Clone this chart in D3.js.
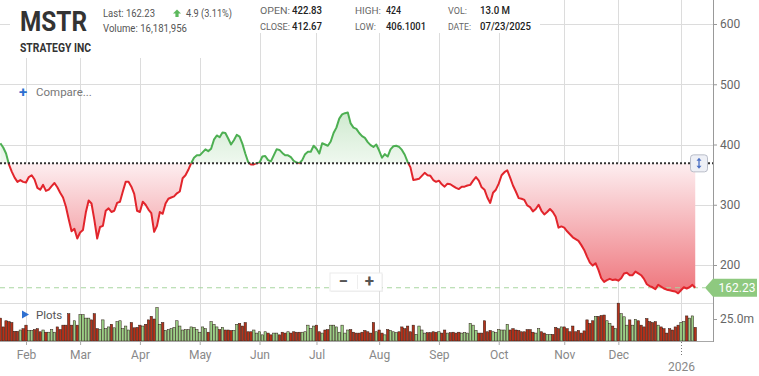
<!DOCTYPE html>
<html>
<head>
<meta charset="utf-8">
<script src="https://cdn.jsdelivr.net/npm/d3@7"></script>
<style>
  body { margin: 0; background: #fff; }
  text { font-family: Roboto, "Liberation Sans", sans-serif; }
</style>
</head>
<body>
<div id="chart"></div>
<script>
// Month tick labels and the trading-day index where each month starts
var monthLabels = ["Feb", "Mar", "Apr", "May", "Jun", "Jul", "Aug", "Sep", "Oct", "Nov", "Dec", "2026"];
var monthStartIndex = [9, 28, 49, 70, 91, 111, 133, 154, 175, 198, 217, 239];

// Daily closes (one per trading day, Jan 21 2025 .. Jan 9 2026)
var closePrices = [
  402, 395, 385, 367, 355, 345, 338, 341, 338, 337,
  346, 349, 342, 328, 325, 333, 323, 325, 331, 336,
  329, 320, 312, 297, 276, 256, 260, 244, 254, 258,
  287, 307, 302, 275, 244, 263, 265, 290, 294, 288,
  290, 303, 305, 322, 338, 338, 330, 318, 290, 288,
  305, 300, 292, 286, 255, 265, 288, 285, 302, 310,
  312, 314, 319, 322, 344, 349, 358, 369, 378, 382,
  382, 387, 392, 389, 393, 408, 415, 412, 420, 419,
  410, 400, 407, 416, 413, 401, 385, 371, 367, 367,
  369, 370, 380, 381, 374, 372, 382, 392, 391, 386,
  382, 382, 379, 373, 370, 369, 374, 384, 388, 388,
  398, 393, 385, 402, 400, 398, 405, 419, 428, 443,
  450, 452, 453, 435, 428, 426, 419, 414, 411, 404,
  399, 396, 400, 390, 378, 384, 380, 392, 397, 398,
  396, 391, 383, 371, 362, 341, 342, 343, 348, 353,
  349, 348, 341, 338, 340, 334, 330, 335, 334, 331,
  328, 326, 330, 330, 332, 333, 340, 346, 340, 329,
  325, 312, 303, 320, 325, 335, 349, 354, 357, 345,
  332, 322, 311, 310, 308, 299, 296, 289, 293, 300,
  290, 284, 288, 293, 288, 280, 262, 264, 262, 256,
  251, 246, 243, 240, 233, 225, 214, 204, 199, 203,
  192, 178, 172, 175, 177, 175, 176, 174, 178, 186,
  187, 183, 183, 189, 186, 183, 177, 168, 165, 163,
  160, 167, 164, 161, 159, 158, 157, 156, 153, 158,
  163, 161, 163, 167, 162.23
];

// Daily volume in millions
var volumes = [
  26, 16, 23, 22, 21, 11, 11, 12.5, 14, 18,
  12, 12, 13, 14, 10.5, 12.5, 10, 10, 13, 10,
  16, 13, 18, 18, 31, 18, 23, 18, 30, 30,
  26, 26, 24, 31, 14, 13, 24, 14, 16, 19,
  15, 22, 23, 14, 17, 12.5, 21, 15, 15.5, 18,
  17, 19, 24, 28, 25, 38, 19, 21, 12, 13,
  14, 15.5, 23, 17, 12.5, 13, 13, 16, 15.5, 13,
  10, 16, 14, 10, 22, 19, 16, 13, 15.5, 12.5,
  12.5, 12, 12, 19, 20, 17, 21, 10.5, 10.5, 12.5,
  9, 10.5, 7, 10.5, 9, 7, 9, 9, 7, 10,
  9, 10.5, 9, 10.5, 10, 10, 10, 10.5, 18, 14,
  17, 18, 10.5, 9, 12.5, 13, 18, 18, 16, 10,
  18, 9, 12.5, 13, 10, 9, 9, 10, 12, 10.5,
  9, 21, 10.5, 12.5, 9, 7, 13, 12, 10.5, 9.5,
  10.5, 16, 14, 17, 10.5, 18, 7.5, 17, 12.5, 9,
  9.5, 9.5, 10.5, 10, 10.5, 9, 12.5, 9, 9.5, 10,
  9, 10, 9, 9.5, 9, 20, 18, 12, 9, 9,
  23, 10.5, 12, 10.5, 9.5, 13, 12.5, 12.5, 19, 12.5,
  14, 12.5, 12, 10.5, 10.5, 13, 13, 10, 9, 14,
  10.5, 9, 7.5, 7.5, 7.5, 15.5, 14, 16, 16, 14,
  10.5, 17, 10.5, 12, 9, 11.5, 24, 20, 23, 28,
  28, 29, 29.5, 23, 20, 17, 14, 43, 31, 27.5,
  18, 24, 18, 24.5, 23, 18, 16, 25.5, 22, 21,
  22, 18, 16, 14, 9, 14, 12.5, 16, 18, 21,
  22, 28.5, 26, 28.5, 15.5
];

var priceTicks = [200, 300, 400, 500, 600];
var volumeTicks = [25];
var baselinePrice = 368.7;
var lastPrice = 162.23;

var width = 759, height = 376;
var plotRight = 713, volBottom = 341, volTop = 303;

var svg = d3.select("#chart")
  .append("svg")
    .attr("width", width)
    .attr("height", height);

// Scales: x runs over trading-day index
var x = d3.scaleLinear()
    .domain([monthStartIndex[0], monthStartIndex[monthStartIndex.length - 1]])
    .range([26, 681]);
var y = d3.scaleLinear().domain([200, 600]).range([265, 24]);
var yv = d3.scaleLinear().domain([0, 25]).range([volBottom, 319]);
var yBase = y(baselinePrice);

// Gradients for the two fills
var defs = svg.append("defs");
var redGrad = defs.append("linearGradient")
    .attr("id", "redFill").attr("gradientUnits", "userSpaceOnUse")
    .attr("x1", 0).attr("x2", 0).attr("y1", yBase).attr("y2", y(150));
redGrad.append("stop").attr("offset", 0).attr("stop-color", "#fdeef0");
redGrad.append("stop").attr("offset", 1).attr("stop-color", "#ee737a");
var greenGrad = defs.append("linearGradient")
    .attr("id", "greenFill").attr("gradientUnits", "userSpaceOnUse")
    .attr("x1", 0).attr("x2", 0).attr("y1", y(460)).attr("y2", yBase);
greenGrad.append("stop").attr("offset", 0).attr("stop-color", "#cde9cd");
greenGrad.append("stop").attr("offset", 1).attr("stop-color", "#eff8ef");

defs.append("clipPath").attr("id", "clipAbove")
  .append("rect").attr("x", 0).attr("y", 0).attr("width", plotRight).attr("height", yBase);
defs.append("clipPath").attr("id", "clipBelow")
  .append("rect").attr("x", 0).attr("y", yBase).attr("width", plotRight).attr("height", volTop - yBase);

// Grid lines
var grid = svg.append("g").attr("stroke", "#dcdcdc").attr("stroke-width", 1);
grid.selectAll(".hgrid")
    .data(priceTicks)
    .enter()
    .append("line")
      .attr("x1", 0).attr("x2", plotRight)
      .attr("y1", function(d) { return Math.round(y(d)) + 0.5; })
      .attr("y2", function(d) { return Math.round(y(d)) + 0.5; });
grid.append("line")
    .attr("x1", 0).attr("x2", plotRight)
    .attr("y1", volTop + 0.5).attr("y2", volTop + 0.5);
grid.selectAll(".vgrid")
    .data(monthStartIndex)
    .enter()
    .append("line")
      .attr("x1", function(d) { return Math.round(x(d)) + 0.5; })
      .attr("x2", function(d) { return Math.round(x(d)) + 0.5; })
      .attr("y1", 0).attr("y2", volBottom);

// White panels behind the header
svg.append("rect").attr("x", 10).attr("y", 0).attr("width", 530).attr("height", 33).attr("fill", "#fff");
svg.append("rect").attr("x", 10).attr("y", 0).attr("width", 240).attr("height", 58).attr("fill", "#fff");

// Price areas and line, split at the baseline
var area = d3.area()
    .x(function(d, i) { return x(i); })
    .y0(yBase)
    .y1(function(d) { return y(d); });
var line = d3.line()
    .x(function(d, i) { return x(i); })
    .y(function(d) { return y(d); });

svg.append("path").datum(closePrices)
    .attr("clip-path", "url(#clipBelow)")
    .attr("d", area).attr("fill", "url(#redFill)");
svg.append("path").datum(closePrices)
    .attr("clip-path", "url(#clipAbove)")
    .attr("d", area).attr("fill", "url(#greenFill)");

// Last price dashed line
svg.append("line")
    .attr("x1", 0).attr("x2", 705)
    .attr("y1", y(lastPrice)).attr("y2", y(lastPrice))
    .attr("stroke", "#a9d6a0").attr("stroke-dasharray", "5,4");

svg.append("path").datum(closePrices)
    .attr("clip-path", "url(#clipBelow)")
    .attr("d", line).attr("fill", "none")
    .attr("stroke", "#e2252c").attr("stroke-width", 2).attr("stroke-linejoin", "round");
svg.append("path").datum(closePrices)
    .attr("clip-path", "url(#clipAbove)")
    .attr("d", line).attr("fill", "none")
    .attr("stroke", "#4daf52").attr("stroke-width", 2).attr("stroke-linejoin", "round");

// Dotted baseline
svg.append("line")
    .attr("x1", 0).attr("x2", plotRight)
    .attr("y1", yBase).attr("y2", yBase)
    .attr("stroke", "#333").attr("stroke-width", 2).attr("stroke-dasharray", "2,2");

// Volume bars
svg.selectAll(".vol")
    .data(volumes)
    .enter()
    .append("rect")
      .attr("x", function(d, i) { return x(i) - 1.2; })
      .attr("y", function(d) { return yv(d); })
      .attr("width", 2.4)
      .attr("height", function(d) { return volBottom - yv(d); })
      .attr("fill", function(d, i) {
        return (i > 0 && closePrices[i] >= closePrices[i - 1]) ? "#9ccf86" : "#b5321b";
      })
      .attr("stroke", "#2a1a12").attr("stroke-width", 0.5);

// Bottom axis
svg.append("line")
    .attr("x1", 0).attr("x2", plotRight)
    .attr("y1", volBottom + 0.5).attr("y2", volBottom + 0.5)
    .attr("stroke", "#a8a8a8");
var xAxis = svg.append("g")
    .attr("transform", "translate(0," + (volBottom + 1) + ")")
    .call(d3.axisBottom(x)
      .tickValues(monthStartIndex)
      .tickFormat(function(d, i) { return monthLabels[i]; })
      .tickSize(3).tickPadding(5));
xAxis.select(".domain").remove();
xAxis.selectAll("line").attr("stroke", "#aaa");
xAxis.selectAll("text").attr("fill", "#888").attr("font-size", 12);
xAxis.selectAll(".tick").filter(function(d, i) { return i === monthLabels.length - 1; })
  .each(function() {
    var t = d3.select(this);
    t.select("text").attr("y", 20.5);
    t.select("line").attr("y2", 15).attr("stroke-dasharray", "1,2").attr("stroke", "#777");
  });

// Right axis
svg.append("line")
    .attr("x1", plotRight + 0.5).attr("x2", plotRight + 0.5)
    .attr("y1", 0).attr("y2", volBottom + 1)
    .attr("stroke", "#999");
var yAxis = svg.append("g")
    .attr("transform", "translate(" + (plotRight + 1) + ",0)")
    .call(d3.axisRight(y).tickValues(priceTicks).tickSize(3).tickPadding(3));
var vAxis = svg.append("g")
    .attr("transform", "translate(" + (plotRight + 1) + ",0)")
    .call(d3.axisRight(yv).tickValues(volumeTicks)
      .tickFormat(function(d) { return d.toFixed(1) + "m"; })
      .tickSize(3).tickPadding(3));
[yAxis, vAxis].forEach(function(a) {
  a.select(".domain").remove();
  a.selectAll("line").attr("stroke", "#999");
  a.selectAll("text").attr("fill", "#666").attr("font-size", 12);
});

// Last price tag
var tagY = y(lastPrice);
svg.append("path")
    .attr("d", "M705," + tagY + " L713," + (tagY - 9) + " H757 V" + (tagY + 9) + " H713 Z")
    .attr("fill", "#8ec97f");
svg.append("text")
    .attr("x", 737).attr("y", tagY + 4.5)
    .attr("text-anchor", "middle").attr("fill", "#fff").attr("font-size", 12)
    .text(d3.format(".2f")(lastPrice));

// Baseline drag handle (box with a double-headed arrow)
svg.append("rect")
    .attr("x", 690.5).attr("y", yBase - 8.5).attr("width", 17).attr("height", 17).attr("rx", 3)
    .attr("fill", "#eef0f6").attr("stroke", "#b9bdc9");
var hx = 699;
svg.append("line")
    .attr("x1", hx).attr("x2", hx).attr("y1", yBase - 3).attr("y2", yBase + 3)
    .attr("stroke", "#4a6fc4").attr("stroke-width", 1.3);
svg.append("path")
    .attr("d", "M" + (hx - 2.5) + "," + (yBase - 2.5) + " L" + hx + "," + (yBase - 5.5) + " L" + (hx + 2.5) + "," + (yBase - 2.5) + " Z" +
               "M" + (hx - 2.5) + "," + (yBase + 2.5) + " L" + hx + "," + (yBase + 5.5) + " L" + (hx + 2.5) + "," + (yBase + 2.5) + " Z")
    .attr("fill", "#4a6fc4");

// Zoom control
var zoomBox = svg.append("g").attr("transform", "translate(330,273)");
zoomBox.append("rect").attr("x", 1).attr("y", 1).attr("width", 52).attr("height", 18)
    .attr("fill", "#000").attr("opacity", 0.06);
zoomBox.append("rect").attr("width", 52).attr("height", 18).attr("fill", "#fff").attr("stroke", "#ececec");
zoomBox.append("line").attr("x1", 27.5).attr("x2", 27.5).attr("y1", 2).attr("y2", 16).attr("stroke", "#eee");
zoomBox.append("text").attr("x", 13.5).attr("y", 14).attr("text-anchor", "middle")
    .attr("font-size", 17).attr("font-weight", "bold").attr("fill", "#555").text("\u2212");
zoomBox.append("text").attr("x", 39.5).attr("y", 14).attr("text-anchor", "middle")
    .attr("font-size", 17).attr("font-weight", "bold").attr("fill", "#555").text("+");

// Compare and Plots links
svg.append("text").attr("x", 19).attr("y", 97).attr("fill", "#2d6fd0")
    .attr("font-size", 15).attr("font-weight", "bold").text("+");
svg.append("text").attr("x", 36).attr("y", 96).attr("fill", "#777").attr("font-size", 11.5).text("Compare...");
svg.append("path").attr("d", "M22,310.5 L29,314.5 L22,318.5 Z").attr("fill", "#2d6fd0");
svg.append("text").attr("x", 36).attr("y", 318.5).attr("fill", "#555").attr("font-size", 11.5).text("Plots");

// Header
svg.append("text").attr("x", 20).attr("y", 30.5)
    .attr("font-family", "'Liberation Sans Narrow', Roboto, sans-serif")
    .attr("font-weight", "bold").attr("font-size", 27).attr("fill", "#333")
    .attr("textLength", 67).attr("lengthAdjust", "spacingAndGlyphs").text("MSTR");
svg.append("text").attr("x", 20).attr("y", 52)
    .attr("font-family", "'Liberation Sans Narrow', Roboto, sans-serif")
    .attr("font-weight", "bold").attr("font-size", 12).attr("fill", "#333")
    .attr("textLength", 71).attr("lengthAdjust", "spacingAndGlyphs").text("STRATEGY INC");

function headerText(tx, ty, str, w, opts) {
  var t = svg.append("text").attr("x", tx).attr("y", ty)
      .attr("font-size", opts.size).attr("fill", opts.color)
      .attr("textLength", w).attr("lengthAdjust", "spacingAndGlyphs")
      .text(str);
  if (opts.bold) t.attr("font-weight", 500);
  return t;
}
headerText(103, 16.5, "Last: 162.23", 52, {size: 11.5, color: "#555"});
svg.append("path").attr("d", "M177,9.5 L181,13.5 L178.6,13.5 L178.6,17 L175.4,17 L175.4,13.5 L173,13.5 Z").attr("fill", "#5cb85c");
headerText(186, 16.5, "4.9 (3.11%)", 46, {size: 11.5, color: "#555"});
headerText(103, 32, "Volume: 16,181,956", 84, {size: 11.5, color: "#555"});

headerText(260, 14, "OPEN:", 30, {size: 9.5, color: "#666"});
headerText(292, 14, "422.83", 30, {size: 11, color: "#222", bold: true});
headerText(260, 30, "CLOSE:", 30, {size: 9.5, color: "#666"});
headerText(292, 30, "412.67", 30, {size: 11, color: "#222", bold: true});
headerText(355, 14, "HIGH:", 26, {size: 9.5, color: "#666"});
headerText(386, 14, "424", 15, {size: 11, color: "#222", bold: true});
headerText(355, 30, "LOW:", 21, {size: 9.5, color: "#666"});
headerText(386, 30, "406.1001", 40, {size: 11, color: "#222", bold: true});
headerText(448, 14, "VOL:", 19, {size: 9.5, color: "#666"});
headerText(480, 14, "13.0 M", 30, {size: 11, color: "#222", bold: true});
headerText(448, 30, "DATE:", 23, {size: 9.5, color: "#666"});
headerText(480, 30, "07/23/2025", 51, {size: 11, color: "#222", bold: true});
</script>
</body>
</html>
